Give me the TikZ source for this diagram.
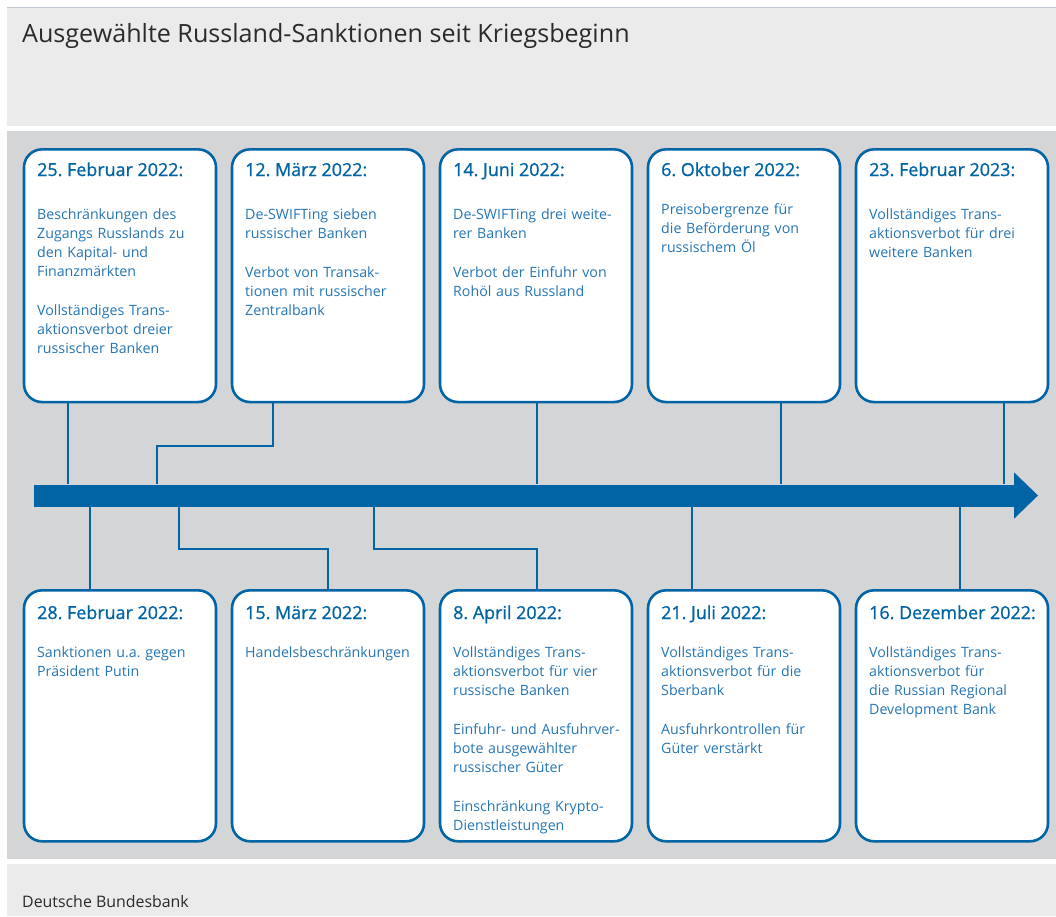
\documentclass[tikz,border=0pt]{standalone}
\usepackage{fontspec}
\setmainfont{Open Sans}
\newfontfamily\datefont{Open Sans}[FakeBold=1]
\frenchspacing
\definecolor{bbblue}{HTML}{0064A5}
\definecolor{bodyblue}{HTML}{2676B4}
\definecolor{panelgray}{HTML}{D4D5D7}
\definecolor{headgray}{HTML}{EBEBEC}
\definecolor{topline}{HTML}{C3CAD6}
\definecolor{titlegray}{HTML}{2B2B2B}
\tikzset{
  box/.style={draw=bbblue, line width=2.6pt, fill=white, rounded corners=18pt,
    minimum width=192pt, inner sep=0pt},
  tbox/.style={box, minimum height=252.7pt},
  bbox/.style={box, minimum height=251pt},
  conn/.style={draw=bbblue, line width=2pt},
  datetxt/.style={anchor=base west, inner sep=0pt, text=bbblue,
    font=\datefont\fontsize{17.9}{19}\selectfont},
  bodytxt/.style={anchor=base west, inner sep=0pt, text=bodyblue, text width=185pt,
    align=left, font=\frenchspacing\fontsize{14.2}{19}\selectfont},
}
\begin{document}
\begin{tikzpicture}[x=1pt,y=-1pt]
\useasboundingbox (0,0) rectangle (1056,916);
% backgrounds
\fill[headgray] (7,8) rectangle (1056,125.5);
\draw[topline, line width=1pt] (7,7.5) -- (1056,7.5);
\fill[panelgray] (7,130.7) rectangle (1056,859.3);
\fill[headgray] (7,864.3) rectangle (1056,916);
\node[anchor=base west, inner sep=0pt, text=titlegray, font=\fontsize{25.1}{28}\selectfont] (title) at (22,42.7) {Ausgewählte Russland-Sanktionen seit Kriegsbeginn};
\node[anchor=base west, inner sep=0pt, text=titlegray, font=\fontsize{15.9}{19}\selectfont] (source) at (22,907.3) {Deutsche Bundesbank};
% timeline arrow
\node[fill=bbblue, inner sep=0pt, minimum width=981pt, minimum height=22pt] (shaft) at (524.5,495.5) {};
\fill[bbblue] (1014,472.3) -- (1038,495.5) -- (1014,518.7) -- cycle;
% boxes top
\node[tbox] (t1) at (120,275.7) {};
\node[tbox] (t2) at (328,275.7) {};
\node[tbox] (t3) at (536,275.7) {};
\node[tbox] (t4) at (744,275.7) {};
\node[tbox] (t5) at (952,275.7) {};
% boxes bottom
\node[bbox] (b1) at (120,715.8) {};
\node[bbox] (b2) at (328,715.8) {};
\node[bbox] (b3) at (536,715.8) {};
\node[bbox] (b4) at (744,715.8) {};
\node[bbox] (b5) at (952,715.8) {};
% connector coordinates
\coordinate (x1) at (68.3,0);
\coordinate (x2a) at (273.3,446);
\coordinate (x2b) at (156.7,446);
\coordinate (x3) at (537,0);
\coordinate (x4) at (781,0);
\coordinate (x5) at (1004,0);
\coordinate (y1) at (90,0);
\coordinate (y2a) at (179.3,549);
\coordinate (y2b) at (328.3,549);
\coordinate (y3a) at (374,549);
\coordinate (y3b) at (537,549);
\coordinate (y4) at (692,0);
\coordinate (y5) at (960,0);
\draw[conn] (t1.south -| x1) -- (shaft.north -| x1);
\draw[conn] (t2.south -| x2a) -- (x2a) -- (x2b) -- (shaft.north -| x2b);
\draw[conn] (t3.south -| x3) -- (shaft.north -| x3);
\draw[conn] (t4.south -| x4) -- (shaft.north -| x4);
\draw[conn] (t5.south -| x5) -- (shaft.north -| x5);
\draw[conn] (shaft.south -| y1) -- (b1.north -| y1);
\draw[conn] (shaft.south -| y2a) -- (y2a) -- (y2b) -- (b2.north -| y2b);
\draw[conn] (shaft.south -| y3a) -- (y3a) -- (y3b) -- (b3.north -| y3b);
\draw[conn] (shaft.south -| y4) -- (b4.north -| y4);
\draw[conn] (shaft.south -| y5) -- (b5.north -| y5);
% top texts
\node[datetxt] (t1d) at (37,176) {25. Februar 2022:};
\node[bodytxt] (t1b) at (37,219) {Beschränkungen des\\Zugangs Russlands zu\\den Kapital- und\\Finanzmärkten\\[20pt]Vollständiges Trans-\\aktionsverbot dreier\\russischer Banken};
\node[datetxt] (t2d) at (245,176) {12. März 2022:};
\node[bodytxt] (t2b) at (245,219) {De-SWIFTing sieben\\russischer Banken\\[20pt]Verbot von Transak-\\tionen mit russischer\\Zentralbank};
\node[datetxt] (t3d) at (453,176) {14. Juni 2022:};
\node[bodytxt] (t3b) at (453,219) {De-SWIFTing drei weite-\\rer Banken\\[20pt]Verbot der Einfuhr von\\Rohöl aus Russland};
\node[datetxt] (t4d) at (661,176) {6. Oktober 2022:};
\node[bodytxt] (t4b) at (661,214.5) {Preisobergrenze für\\die Beförderung von\\russischem Öl};
\node[datetxt] (t5d) at (869,176) {23. Februar 2023:};
\node[bodytxt] (t5b) at (869,219) {Vollständiges Trans-\\aktionsverbot für drei\\weitere Banken};
% bottom texts
\node[datetxt] (b1d) at (37,619) {28. Februar 2022:};
\node[bodytxt] (b1b) at (37,657) {Sanktionen u.a. gegen\\Präsident Putin};
\node[datetxt] (b2d) at (245,619) {15. März 2022:};
\node[bodytxt] (b2b) at (245,657) {Handelsbeschränkungen};
\node[datetxt] (b3d) at (453,619) {8. April 2022:};
\node[bodytxt] (b3b) at (453,657) {Vollständiges Trans-\\aktionsverbot für vier\\russische Banken\\[20pt]Einfuhr- und Ausfuhrver-\\bote ausgewählter\\russischer Güter\\[20pt]Einschränkung Krypto-\\Dienstleistungen};
\node[datetxt] (b4d) at (661,619) {21. Juli 2022:};
\node[bodytxt] (b4b) at (661,657) {Vollständiges Trans-\\aktionsverbot für die\\Sberbank\\[20pt]Ausfuhrkontrollen für\\Güter verstärkt};
\node[datetxt] (b5d) at (869,619) {16. Dezember 2022:};
\node[bodytxt] (b5b) at (869,657) {Vollständiges Trans-\\aktionsverbot für\\die Russian Regional\\Development Bank};
\end{tikzpicture}
\end{document}
